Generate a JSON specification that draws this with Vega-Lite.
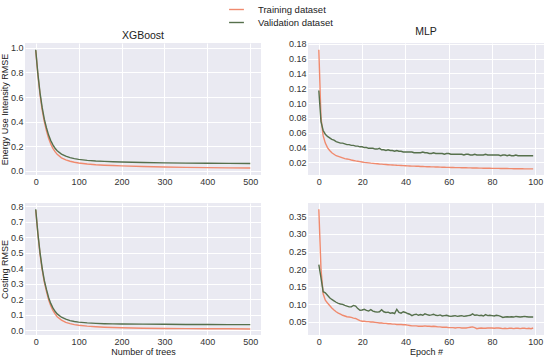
{
"$schema": "https://vega.github.io/schema/vega-lite/v6.json",
"background": "white",
"padding": {"left": 0, "top": 1, "right": 2, "bottom": 2},
"config": {
  "view": {"fill": "#EAEAF2", "stroke": null},
  "font": "Liberation Sans",
  "axis": {"grid": true, "gridColor": "white", "gridWidth": 1, "domain": false, "ticks": false, "labelColor": "#333333", "labelFontSize": 9, "labelPadding": 2, "titleColor": "#222222", "titleFontSize": 9, "titleFontWeight": "normal", "titlePadding": 1},
  "title": {"fontSize": 10.5, "fontWeight": "normal", "color": "#222222", "offset": 2},
  "line": {"strokeWidth": 1.4},
  "concat": {"spacing": 27}
},
"spacing": 16,
"vconcat": [
 {"hconcat": [
  {"title": "XGBoost", "width": 236, "height": 132,
   "data": {"values": [
    {"x":0,"t":0.98,"v":0.985},{"x":5,"t":0.78,"v":0.79},{"x":10,"t":0.62,"v":0.635},{"x":15,"t":0.495,"v":0.515},{"x":20,"t":0.40,"v":0.42},{"x":25,"t":0.325,"v":0.35},{"x":30,"t":0.265,"v":0.29},{"x":35,"t":0.218,"v":0.245},{"x":40,"t":0.182,"v":0.21},{"x":45,"t":0.155,"v":0.183},{"x":50,"t":0.133,"v":0.162},{"x":60,"t":0.105,"v":0.135},{"x":70,"t":0.088,"v":0.118},{"x":80,"t":0.077,"v":0.106},{"x":90,"t":0.069,"v":0.098},{"x":100,"t":0.063,"v":0.092},{"x":120,"t":0.055,"v":0.084},{"x":140,"t":0.049,"v":0.079},{"x":160,"t":0.045,"v":0.076},{"x":180,"t":0.042,"v":0.073},{"x":200,"t":0.039,"v":0.071},{"x":250,"t":0.034,"v":0.067},{"x":300,"t":0.030,"v":0.064},{"x":350,"t":0.027,"v":0.062},{"x":400,"t":0.025,"v":0.061},{"x":450,"t":0.023,"v":0.060},{"x":500,"t":0.022,"v":0.059}
   ]},
   "transform": [{"fold": ["t", "v"], "as": ["s", "y"]}],
   "mark": "line",
   "encoding": {
    "x": {"field": "x", "type": "quantitative", "scale": {"domain": [-25, 525], "nice": false}, "axis": {"values": [0,100,200,300,400,500], "title": null}},
    "y": {"field": "y", "type": "quantitative", "scale": {"domain": [-0.035, 1.04], "nice": false, "zero": false}, "axis": {"values": [0,0.2,0.4,0.6,0.8,1.0], "format": ".1f", "title": "Energy Use Intensity RMSE"}},
    "color": {"field": "s", "type": "nominal", "scale": {"domain": ["t","v"], "range": ["#F08A6E","#56704C"]},
      "legend": {"title": null, "orient": "none", "legendX": 203, "legendY": -42, "symbolType": "stroke", "symbolSize": 220, "symbolStrokeWidth": 1.4, "labelFontSize": 9.5, "labelColor": "#222222", "rowPadding": 0, "labelOffset": 13,
        "labelExpr": "datum.value == 't' ? 'Training dataset' : 'Validation dataset'"}},
    "order": {"field": "s"}
   }
  },
  {"title": "MLP", "width": 236, "height": 132,
   "data": {"values": [
    {"x":0,"t":0.172,"v":0.117},{"x":1,"t":0.080,"v":0.075},{"x":2,"t":0.056,"v":0.063},{"x":3,"t":0.046,"v":0.058},{"x":4,"t":0.040,"v":0.055},{"x":5,"t":0.036,"v":0.053},{"x":6,"t":0.033,"v":0.051},{"x":7,"t":0.031,"v":0.050},{"x":8,"t":0.029,"v":0.048},{"x":9,"t":0.028,"v":0.047},
    {"x":10,"t":0.027,"v":0.046},{"x":11,"t":0.026,"v":0.046},{"x":12,"t":0.025,"v":0.045},{"x":13,"t":0.0245,"v":0.044},{"x":14,"t":0.024,"v":0.044},{"x":15,"t":0.0232,"v":0.043},{"x":16,"t":0.0226,"v":0.043},{"x":17,"t":0.022,"v":0.042},{"x":18,"t":0.0215,"v":0.042},{"x":19,"t":0.021,"v":0.041},
    {"x":20,"t":0.0205,"v":0.041},{"x":21,"t":0.020,"v":0.040},{"x":22,"t":0.0197,"v":0.040},{"x":23,"t":0.0194,"v":0.039},{"x":24,"t":0.019,"v":0.039},{"x":25,"t":0.0187,"v":0.039},{"x":26,"t":0.0184,"v":0.038},{"x":27,"t":0.0181,"v":0.038},{"x":28,"t":0.0178,"v":0.039},{"x":29,"t":0.0176,"v":0.037},
    {"x":30,"t":0.0173,"v":0.037},{"x":31,"t":0.0171,"v":0.036},{"x":32,"t":0.0169,"v":0.037},{"x":33,"t":0.0167,"v":0.036},{"x":34,"t":0.0165,"v":0.036},{"x":35,"t":0.0163,"v":0.035},{"x":36,"t":0.0161,"v":0.036},{"x":37,"t":0.016,"v":0.035},{"x":38,"t":0.0158,"v":0.035},{"x":39,"t":0.0156,"v":0.034},
    {"x":40,"t":0.0155,"v":0.034},{"x":41,"t":0.0153,"v":0.034},{"x":42,"t":0.0152,"v":0.034},{"x":43,"t":0.015,"v":0.034},{"x":44,"t":0.0149,"v":0.033},{"x":45,"t":0.0148,"v":0.033},{"x":46,"t":0.0147,"v":0.033},{"x":47,"t":0.0145,"v":0.033},{"x":48,"t":0.0144,"v":0.034},{"x":49,"t":0.0143,"v":0.033},
    {"x":50,"t":0.0142,"v":0.033},{"x":51,"t":0.0141,"v":0.032},{"x":52,"t":0.014,"v":0.032},{"x":53,"t":0.0139,"v":0.033},{"x":54,"t":0.0138,"v":0.032},{"x":55,"t":0.0137,"v":0.032},{"x":56,"t":0.0136,"v":0.032},{"x":57,"t":0.0135,"v":0.032},{"x":58,"t":0.0134,"v":0.031},{"x":59,"t":0.0133,"v":0.032},
    {"x":60,"t":0.0133,"v":0.032},{"x":61,"t":0.0132,"v":0.031},{"x":62,"t":0.0131,"v":0.031},{"x":63,"t":0.013,"v":0.031},{"x":64,"t":0.013,"v":0.031},{"x":65,"t":0.0129,"v":0.031},{"x":66,"t":0.0128,"v":0.031},{"x":67,"t":0.0128,"v":0.030},{"x":68,"t":0.0127,"v":0.031},{"x":69,"t":0.0126,"v":0.031},
    {"x":70,"t":0.0126,"v":0.030},{"x":71,"t":0.0125,"v":0.030},{"x":72,"t":0.0124,"v":0.031},{"x":73,"t":0.0124,"v":0.030},{"x":74,"t":0.0123,"v":0.030},{"x":75,"t":0.0123,"v":0.030},{"x":76,"t":0.0122,"v":0.030},{"x":77,"t":0.0122,"v":0.031},{"x":78,"t":0.0121,"v":0.030},{"x":79,"t":0.0121,"v":0.030},
    {"x":80,"t":0.012,"v":0.030},{"x":81,"t":0.012,"v":0.030},{"x":82,"t":0.0119,"v":0.030},{"x":83,"t":0.0119,"v":0.030},{"x":84,"t":0.0118,"v":0.029},{"x":85,"t":0.0118,"v":0.030},{"x":86,"t":0.0117,"v":0.030},{"x":87,"t":0.0117,"v":0.029},{"x":88,"t":0.0116,"v":0.030},{"x":89,"t":0.0116,"v":0.029},
    {"x":90,"t":0.0115,"v":0.029},{"x":91,"t":0.0115,"v":0.030},{"x":92,"t":0.0115,"v":0.029},{"x":93,"t":0.0114,"v":0.029},{"x":94,"t":0.0114,"v":0.029},{"x":95,"t":0.0113,"v":0.029},{"x":96,"t":0.0113,"v":0.029},{"x":97,"t":0.0113,"v":0.029},{"x":98,"t":0.0112,"v":0.029},{"x":99,"t":0.0112,"v":0.029}
   ]},
   "transform": [{"fold": ["t", "v"], "as": ["s", "y"]}],
   "mark": "line",
   "encoding": {
    "x": {"field": "x", "type": "quantitative", "scale": {"domain": [-5, 104], "nice": false}, "axis": {"values": [0,20,40,60,80,100], "title": null}},
    "y": {"field": "y", "type": "quantitative", "scale": {"domain": [0.003, 0.181], "nice": false, "zero": false}, "axis": {"values": [0.02,0.04,0.06,0.08,0.10,0.12,0.14,0.16,0.18], "format": ".2f", "title": null}},
    "color": {"field": "s", "type": "nominal"},
    "order": {"field": "s"}
   }
  }
 ]},
 {"hconcat": [
  {"width": 236, "height": 132,
   "data": {"values": [
    {"x":0,"t":0.775,"v":0.78},{"x":5,"t":0.62,"v":0.625},{"x":10,"t":0.49,"v":0.50},{"x":15,"t":0.39,"v":0.40},{"x":20,"t":0.31,"v":0.32},{"x":25,"t":0.25,"v":0.262},{"x":30,"t":0.195,"v":0.21},{"x":35,"t":0.157,"v":0.172},{"x":40,"t":0.127,"v":0.143},{"x":45,"t":0.104,"v":0.121},{"x":50,"t":0.086,"v":0.104},{"x":60,"t":0.064,"v":0.083},{"x":70,"t":0.050,"v":0.070},{"x":80,"t":0.041,"v":0.061},{"x":90,"t":0.035,"v":0.055},{"x":100,"t":0.031,"v":0.051},{"x":120,"t":0.025,"v":0.046},{"x":140,"t":0.021,"v":0.043},{"x":160,"t":0.018,"v":0.041},{"x":180,"t":0.016,"v":0.040},{"x":200,"t":0.015,"v":0.039},{"x":250,"t":0.012,"v":0.038},{"x":300,"t":0.010,"v":0.037},{"x":350,"t":0.009,"v":0.036},{"x":400,"t":0.008,"v":0.036},{"x":450,"t":0.008,"v":0.035},{"x":500,"t":0.007,"v":0.035}
   ]},
   "transform": [{"fold": ["t", "v"], "as": ["s", "y"]}],
   "mark": "line",
   "encoding": {
    "x": {"field": "x", "type": "quantitative", "scale": {"domain": [-25, 525], "nice": false}, "axis": {"values": [0,100,200,300,400,500], "title": "Number of trees"}},
    "y": {"field": "y", "type": "quantitative", "scale": {"domain": [-0.032, 0.82], "nice": false, "zero": false}, "axis": {"values": [0,0.1,0.2,0.3,0.4,0.5,0.6,0.7,0.8], "format": ".1f", "title": "Costing RMSE"}},
    "color": {"field": "s", "type": "nominal"},
    "order": {"field": "s"}
   }
  },
  {"width": 236, "height": 132,
   "data": {"values": [
    {"x":0,"t":0.370,"v":0.213},{"x":1,"t":0.200,"v":0.175},{"x":2,"t":0.130,"v":0.136},{"x":3,"t":0.112,"v":0.133},{"x":4,"t":0.104,"v":0.126},{"x":5,"t":0.097,"v":0.119},{"x":6,"t":0.090,"v":0.114},{"x":7,"t":0.084,"v":0.110},{"x":8,"t":0.079,"v":0.106},{"x":9,"t":0.075,"v":0.103},
    {"x":10,"t":0.072,"v":0.101},{"x":11,"t":0.069,"v":0.100},{"x":12,"t":0.067,"v":0.097},{"x":13,"t":0.065,"v":0.095},{"x":14,"t":0.064,"v":0.093},{"x":15,"t":0.063,"v":0.093},{"x":16,"t":0.061,"v":0.097},{"x":17,"t":0.060,"v":0.095},{"x":18,"t":0.057,"v":0.088},{"x":19,"t":0.054,"v":0.083},
    {"x":20,"t":0.052,"v":0.084},{"x":21,"t":0.052,"v":0.086},{"x":22,"t":0.051,"v":0.083},{"x":23,"t":0.051,"v":0.081},{"x":24,"t":0.050,"v":0.085},{"x":25,"t":0.050,"v":0.081},{"x":26,"t":0.049,"v":0.079},{"x":27,"t":0.048,"v":0.078},{"x":28,"t":0.047,"v":0.079},{"x":29,"t":0.047,"v":0.085},
    {"x":30,"t":0.046,"v":0.079},{"x":31,"t":0.046,"v":0.077},{"x":32,"t":0.045,"v":0.078},{"x":33,"t":0.045,"v":0.075},{"x":34,"t":0.044,"v":0.076},{"x":35,"t":0.044,"v":0.074},{"x":36,"t":0.043,"v":0.086},{"x":37,"t":0.043,"v":0.077},{"x":38,"t":0.043,"v":0.075},{"x":39,"t":0.042,"v":0.079},
    {"x":40,"t":0.042,"v":0.077},{"x":41,"t":0.041,"v":0.074},{"x":42,"t":0.040,"v":0.072},{"x":43,"t":0.039,"v":0.068},{"x":44,"t":0.039,"v":0.071},{"x":45,"t":0.039,"v":0.072},{"x":46,"t":0.038,"v":0.069},{"x":47,"t":0.038,"v":0.071},{"x":48,"t":0.038,"v":0.069},{"x":49,"t":0.039,"v":0.073},
    {"x":50,"t":0.038,"v":0.071},{"x":51,"t":0.038,"v":0.069},{"x":52,"t":0.037,"v":0.070},{"x":53,"t":0.038,"v":0.072},{"x":54,"t":0.037,"v":0.069},{"x":55,"t":0.036,"v":0.068},{"x":56,"t":0.036,"v":0.070},{"x":57,"t":0.035,"v":0.067},{"x":58,"t":0.035,"v":0.068},{"x":59,"t":0.035,"v":0.069},
    {"x":60,"t":0.034,"v":0.067},{"x":61,"t":0.034,"v":0.066},{"x":62,"t":0.034,"v":0.067},{"x":63,"t":0.033,"v":0.068},{"x":64,"t":0.034,"v":0.066},{"x":65,"t":0.034,"v":0.067},{"x":66,"t":0.033,"v":0.068},{"x":67,"t":0.033,"v":0.066},{"x":68,"t":0.033,"v":0.067},{"x":69,"t":0.034,"v":0.068},
    {"x":70,"t":0.035,"v":0.069},{"x":71,"t":0.036,"v":0.073},{"x":72,"t":0.034,"v":0.069},{"x":73,"t":0.031,"v":0.070},{"x":74,"t":0.032,"v":0.068},{"x":75,"t":0.033,"v":0.069},{"x":76,"t":0.032,"v":0.067},{"x":77,"t":0.032,"v":0.071},{"x":78,"t":0.033,"v":0.068},{"x":79,"t":0.033,"v":0.069},
    {"x":80,"t":0.033,"v":0.068},{"x":81,"t":0.032,"v":0.067},{"x":82,"t":0.033,"v":0.069},{"x":83,"t":0.033,"v":0.068},{"x":84,"t":0.032,"v":0.066},{"x":85,"t":0.031,"v":0.063},{"x":86,"t":0.032,"v":0.064},{"x":87,"t":0.031,"v":0.065},{"x":88,"t":0.032,"v":0.064},{"x":89,"t":0.032,"v":0.065},
    {"x":90,"t":0.031,"v":0.064},{"x":91,"t":0.032,"v":0.066},{"x":92,"t":0.032,"v":0.065},{"x":93,"t":0.031,"v":0.064},{"x":94,"t":0.032,"v":0.065},{"x":95,"t":0.032,"v":0.066},{"x":96,"t":0.031,"v":0.065},{"x":97,"t":0.032,"v":0.064},{"x":98,"t":0.031,"v":0.064},{"x":99,"t":0.033,"v":0.064}
   ]},
   "transform": [{"fold": ["t", "v"], "as": ["s", "y"]}],
   "mark": "line",
   "encoding": {
    "x": {"field": "x", "type": "quantitative", "scale": {"domain": [-5, 104], "nice": false}, "axis": {"values": [0,20,40,60,80,100], "title": "Epoch #"}},
    "y": {"field": "y", "type": "quantitative", "scale": {"domain": [0.013, 0.388], "nice": false, "zero": false}, "axis": {"values": [0.05,0.10,0.15,0.20,0.25,0.30,0.35], "format": ".2f", "title": null}},
    "color": {"field": "s", "type": "nominal"},
    "order": {"field": "s"}
   }
  }
 ]}
]
}
